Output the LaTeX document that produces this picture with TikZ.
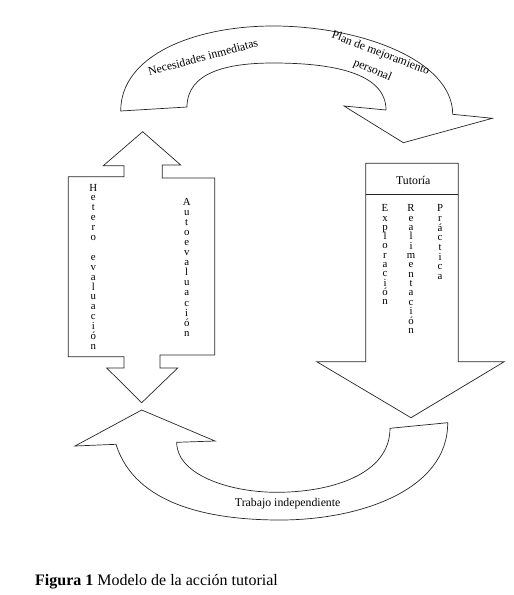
\documentclass[tikz,border=0pt]{standalone}
\usepackage{fontspec}
\setmainfont{Liberation Serif}
\newcommand\vword[5]{%
  \foreach \l [count=\i from 0] in {#5} {\node[vlet] (#1\i) at (#2, #3+\i*#4) {\l};}}
\begin{document}
\begin{tikzpicture}[x=1pt,y=-1pt,
  shapeline/.style={draw=black!85, line width=0.7pt, line join=miter},
  lbl/.style={font=\fontsize{11.8}{13}\selectfont, inner sep=0pt},
  vlet/.style={font=\fontsize{10.8}{10}\selectfont, inner sep=0pt, anchor=base}]
\useasboundingbox (0,0) rectangle (514,595);
% top curved arrow
\draw[shapeline] (120.7,111) -- (187,107)
  .. controls (187,72) and (228,63) .. (273,63)
  .. controls (330,63) and (386,72) .. (386,110)
  -- (344,106) -- (403.3,142.7) -- (492.3,118.3) -- (452.7,114.3)
  .. controls (452.7,60) and (360,26) .. (273,26)
  .. controls (195,26) and (120.7,55) .. (120.7,111) -- cycle;
% left double arrow
\draw[shapeline] (142.7,131.7) -- (180.7,165) -- (162.3,165) -- (162.3,178) -- (214.7,178)
  -- (214.7,355) -- (160,355) -- (160,368) -- (177.7,368) -- (141.7,402.7)
  -- (106.7,368) -- (124,368) -- (124,356.7) -- (68.3,356.7) -- (68.3,176.7)
  -- (124,176.7) -- (124,165.7) -- (103.3,165.7) -- cycle;
% right down arrow
\draw[shapeline] (365.7,163.3) -- (458.3,163.3) -- (458.3,361.7) -- (504.3,361.7)
  -- (411,417.7) -- (316.7,361.7) -- (365.7,361.7) -- cycle;
\draw[shapeline] (365.7,194) -- (458.3,194);
% bottom curved arrow
\draw[shapeline] (116,444.3) -- (75,446) -- (141.7,410) -- (215,441) -- (176.7,442.3)
  .. controls (176.7,475) and (230,492.3) .. (276.7,492.3)
  .. controls (330,492.3) and (390,475) .. (390,428.3)
  -- (447.7,422.7)
  .. controls (448,490) and (360,520) .. (280,520)
  .. controls (210,520) and (135,505) .. (116,444.3) -- cycle;
% labels
\node[lbl, rotate=15] (nec) at (203,57) {Necesidades inmediatas};
\node[lbl, rotate=-21] (plan1) at (380.5,53.5) {Plan de mejoramiento};
\node[lbl, rotate=-23] (plan2) at (372.5,70.5) {personal};
\node[lbl] (tut) at (413.3,180) {Tutoría};
\node[lbl] (trab) at (287.7,503.3) {Trabajo independiente};
\vword{het}{93.3}{191}{9.9}{H,e,t,e,r,o,{},e,v,a,l,u,a,c,i,ó,n}
\vword{aut}{186.7}{205}{10.1}{A,u,t,o,e,v,a,l,u,a,c,i,ó,n}
\vword{exp}{385}{211.7}{9.3}{E,x,p,l,o,r,a,c,i,ó,n}
\vword{rea}{411}{211.7}{9.36}{R,e,a,l,i,m,e,n,t,a,c,i,ó,n}
\vword{pra}{440}{211.7}{9.67}{P,r,á,c,t,i,c,a}
\node[font=\fontsize{16}{18}\selectfont, inner sep=0pt, anchor=base west] (cap) at (35,585) {\textbf{Figura 1} Modelo de la acción tutorial};
\end{tikzpicture}
\end{document}
